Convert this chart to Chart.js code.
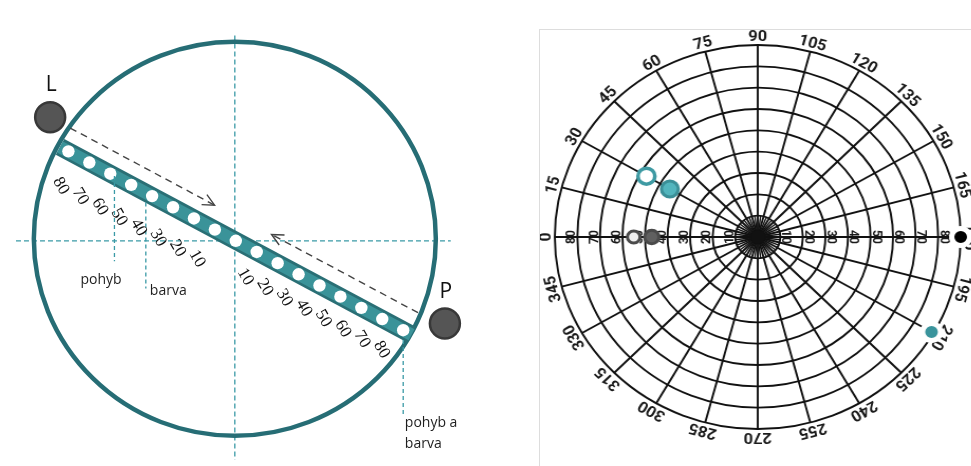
<!DOCTYPE html>
<html>
<head>
<meta charset="utf-8">
<script src="https://cdn.jsdelivr.net/npm/chart.js@4.4.1/dist/chart.umd.min.js"></script>
<style>
  html, body { margin: 0; padding: 0; background: #fff; }
  body { width: 971px; height: 466px; position: relative; overflow: hidden; }
  #left { position: absolute; left: 0; top: 0; width: 540px; height: 466px; }
  #panel { position: absolute; left: 539px; top: 29px; width: 432px; height: 437px;
           border-left: 1px solid #ddd; border-top: 1px solid #ddd; box-sizing: border-box; }
  #polarWrap { position: absolute; left: 0; top: 0; width: 408px; height: 436px;
               transform-origin: 0 0; transform: scaleX(1.057); }
</style>
</head>
<body>
<div id="left"><canvas id="leftCanvas"></canvas></div>
<div id="panel"><div id="polarWrap"><canvas id="polarCanvas"></canvas></div></div>
<script>
// ---- data ----
// scale printed along the bar (same on both halves)
const barTicks = [10, 20, 30, 40, 50, 60, 70, 80];
// readings marked under the bar
const markL = [58, 43];   // pohyb, barva (L half)
const markP = [80];       // pohyb a barva (P half)

// polar chart
const angles = [0, 15, 30, 45, 60, 75, 90, 105, 120, 135, 150, 165,
                180, 195, 210, 225, 240, 255, 270, 285, 300, 315, 330, 345];
const radialTicks = [10, 20, 30, 40, 50, 60, 70, 80];
// [angle, value]
const grayOpen = [[0, 55]];
const grayFull = [[0, 47]];
const tealOpen = [[30, 57]];
const tealFull = [[30, 45]];
const blackDot = [[180, 90]];
const tealDot = [[210, 89]];

// ---- left diagram ----
// bar layout on the page
const BAR = { cx: 235, cy: 241, angle: 28.2, unit: 2.43, half: 84 };
const rad = BAR.angle * Math.PI / 180;

function barXY(u, perp) {
  perp = perp || 0;
  return {
    x: BAR.cx + u * BAR.unit * Math.cos(rad) + perp * Math.sin(rad),
    y: BAR.cy + u * BAR.unit * Math.sin(rad) - perp * Math.cos(rad)
  };
}

const dotPoints = [...barTicks.slice().reverse().map(v => -v), 0, ...barTicks].map(u => barXY(u));

const markerText = [
  { start: 0, end: 262, lines: ['pohyb'], x: 76, y: 281 },
  { start: 10, end: 290, lines: ['barva'], x: 147, y: 293 },
  { start: 10, end: 420, lines: ['pohyb a', 'barva'], x: 408, y: 428 }
];

function arrow(ctx, a, b) {
  ctx.setLineDash([7, 5]);
  ctx.beginPath(); ctx.moveTo(a.x, a.y); ctx.lineTo(b.x, b.y); ctx.stroke();
  ctx.setLineDash([]);
  const ang = Math.atan2(b.y - a.y, b.x - a.x);
  ctx.beginPath();
  ctx.moveTo(b.x - 13 * Math.cos(ang - 0.45), b.y - 13 * Math.sin(ang - 0.45));
  ctx.lineTo(b.x, b.y);
  ctx.lineTo(b.x - 13 * Math.cos(ang + 0.45), b.y - 13 * Math.sin(ang + 0.45));
  ctx.stroke();
}

const leftDecor = {
  id: 'leftDecor',
  beforeDatasetsDraw(chart) {
    const ctx = chart.ctx, xs = chart.scales.x, ys = chart.scales.y;
    const X = v => xs.getPixelForValue(v), Y = v => ys.getPixelForValue(v);
    ctx.save();
    // dashed cross
    ctx.strokeStyle = '#3a9aa6'; ctx.lineWidth = 1.3; ctx.setLineDash([5, 3]);
    ctx.beginPath(); ctx.moveTo(X(234), Y(30)); ctx.lineTo(X(234), Y(466)); ctx.stroke();
    ctx.beginPath(); ctx.moveTo(X(10), Y(241)); ctx.lineTo(X(455), Y(241)); ctx.stroke();
    ctx.setLineDash([]);
    // ring
    ctx.strokeStyle = '#266d75'; ctx.lineWidth = 4.5;
    ctx.beginPath(); ctx.ellipse(X(234), Y(239), 201, 197, 0, 0, Math.PI * 2); ctx.stroke();
    // bar
    const p0 = barXY(-BAR.half), p1 = barXY(BAR.half);
    ctx.lineCap = 'butt';
    ctx.strokeStyle = '#2a6f75'; ctx.lineWidth = 18;
    ctx.beginPath(); ctx.moveTo(X(p0.x), Y(p0.y)); ctx.lineTo(X(p1.x), Y(p1.y)); ctx.stroke();
    ctx.strokeStyle = '#3a9399'; ctx.lineWidth = 12.5;
    ctx.beginPath(); ctx.moveTo(X(p0.x), Y(p0.y)); ctx.lineTo(X(p1.x), Y(p1.y)); ctx.stroke();
    ctx.restore();
  },
  afterDatasetsDraw(chart) {
    const ctx = chart.ctx, xs = chart.scales.x, ys = chart.scales.y;
    const X = v => xs.getPixelForValue(v), Y = v => ys.getPixelForValue(v);
    ctx.save();
    // marker lines and captions
    const marks = [...markL.map(v => -v), ...markP];
    ctx.strokeStyle = '#3a9aa6'; ctx.lineWidth = 1.3;
    ctx.font = '14px "Open Sans", "Noto Sans", sans-serif';
    ctx.fillStyle = '#1e1e1e'; ctx.textAlign = 'left'; ctx.textBaseline = 'middle';
    marks.forEach((u, i) => {
      const p = barXY(u), m = markerText[i];
      ctx.setLineDash([4, 3]);
      ctx.beginPath(); ctx.moveTo(X(p.x), Y(p.y + m.start)); ctx.lineTo(X(p.x), Y(m.end)); ctx.stroke();
      ctx.setLineDash([]);
      m.lines.forEach((t, k) => ctx.fillText(t, X(m.x), Y(m.y + k * 22)));
    });
    // scale numbers under the bar
    ctx.font = '17px "Liberation Serif", "Times New Roman", serif';
    ctx.fillStyle = '#111'; ctx.textAlign = 'center';
    barTicks.forEach(v => {
      [[-1, -35], [1, -28]].forEach(([s, off]) => {
        const p = barXY(s * (0.93 * v + 1.5), off);
        ctx.save(); ctx.translate(X(p.x), Y(p.y)); ctx.rotate(60 * Math.PI / 180);
        ctx.fillText(String(v), 0, 0); ctx.restore();
      });
    });
    // direction arrows
    ctx.strokeStyle = '#444'; ctx.lineWidth = 1.4;
    let a = barXY(-84, 22), b = barXY(-15, 22);
    arrow(ctx, { x: X(a.x), y: Y(a.y) }, { x: X(b.x), y: Y(b.y) });
    a = barXY(82, 23); b = barXY(12, 23);
    arrow(ctx, { x: X(a.x), y: Y(a.y) }, { x: X(b.x), y: Y(b.y) });
    // L and P
    [[45, 114, 'L', 81], [449, 326, 'P', 294]].forEach(([x, y, t, ty]) => {
      ctx.fillStyle = '#555'; ctx.strokeStyle = '#383838'; ctx.lineWidth = 2.5;
      ctx.beginPath(); ctx.arc(X(x), Y(y), 15, 0, Math.PI * 2); ctx.fill(); ctx.stroke();
      ctx.fillStyle = '#111'; ctx.font = '21px "Open Sans", "Noto Sans", sans-serif';
      ctx.textAlign = 'center';
      ctx.fillText(t, X(x + 1), Y(ty));
    });
    ctx.restore();
  }
};

new Chart(document.getElementById('leftCanvas'), {
  type: 'scatter',
  data: {
    datasets: [{
      data: dotPoints,
      pointRadius: 6.2,
      pointBackgroundColor: '#fff',
      pointBorderWidth: 0,
      clip: false
    }]
  },
  options: {
    responsive: true,
    maintainAspectRatio: false,
    animation: false,
    events: [],
    layout: { padding: 0 },
    plugins: { legend: { display: false }, tooltip: { enabled: false } },
    scales: {
      x: { type: 'linear', min: 0, max: 540, display: false },
      y: { type: 'linear', min: 0, max: 466, reverse: true, display: false }
    }
  },
  plugins: [leftDecor]
});

// ---- polar chart ----
function toRadar(pairs) {
  const arr = angles.map(() => null);
  pairs.forEach(([a, v]) => { arr[angles.indexOf(a)] = v; });
  return arr;
}

function pts(pairs, fill, border, r, bw) {
  return {
    data: toRadar(pairs),
    showLine: false,
    pointRadius: r,
    pointBackgroundColor: fill,
    pointBorderColor: border,
    pointBorderWidth: bw,
    clip: false
  };
}

const polarDecor = {
  id: 'polarDecor',
  beforeDatasetsDraw(chart) {
    const s = chart.scales.r, ctx = chart.ctx;
    const cx = s.xCenter, cy = s.yCenter;
    ctx.save();
    // denser spokes near the pole
    const step = Math.PI * 2 / angles.length;
    const inner = s.getDistanceFromCenterForValue(10);
    ctx.strokeStyle = '#111'; ctx.lineWidth = 1.4;
    angles.forEach((a, i) => {
      const t = s.getIndexAngle(i) - Math.PI / 2 + step / 2;
      ctx.beginPath(); ctx.moveTo(cx, cy);
      ctx.lineTo(cx + inner * Math.cos(t), cy + inner * Math.sin(t)); ctx.stroke();
    });
    ctx.fillStyle = '#111';
    ctx.beginPath(); ctx.arc(cx, cy, 7, 0, Math.PI * 2); ctx.fill();
    // angle labels, rotated along the rim
    ctx.font = 'bold 15.5px Roboto, "Liberation Sans", sans-serif';
    ctx.fillStyle = '#1a1a1a'; ctx.textAlign = 'center'; ctx.textBaseline = 'middle';
    angles.forEach((a, i) => {
      const p = s.getPointPosition(i, s.drawingArea + 8);
      ctx.save(); ctx.translate(p.x, p.y); ctx.rotate(s.getIndexAngle(i));
      ctx.fillText(String(a), 0, 0); ctx.restore();
    });
    // radial values along the 0-180 axis
    ctx.font = 'bold 12px Roboto, "Liberation Sans", sans-serif';
    radialTicks.forEach(v => {
      const d = s.getDistanceFromCenterForValue(v) + 5;
      ctx.save(); ctx.translate(cx - d, cy); ctx.rotate(-Math.PI / 2);
      ctx.fillText(String(v), 0, 0); ctx.restore();
      ctx.save(); ctx.translate(cx + d, cy); ctx.rotate(Math.PI / 2);
      ctx.fillText(String(v), 0, 0); ctx.restore();
    });
    ctx.restore();
  }
};

new Chart(document.getElementById('polarCanvas'), {
  type: 'radar',
  data: {
    labels: angles.map(String),
    datasets: [
      pts(grayOpen, '#f0f0f0', '#4a4a4a', 6, 3),
      pts(grayFull, '#606060', '#4a4a4a', 6.8, 3),
      pts(tealOpen, '#ffffff', '#3e9aa3', 8, 3.5),
      pts(tealFull, '#52b5bd', '#3b8f97', 8, 3),
      pts(blackDot, '#000000', '#ffffff', 8.5, 5),
      pts(tealDot, '#3a949c', '#ffffff', 8.5, 5)
    ]
  },
  options: {
    responsive: true,
    maintainAspectRatio: false,
    animation: false,
    events: [],
    layout: { padding: { left: 14, right: 10, top: 15, bottom: 37 } },
    plugins: { legend: { display: false }, tooltip: { enabled: false } },
    scales: {
      r: {
        min: 0,
        max: 90,
        startAngle: 270,
        ticks: { display: false, stepSize: 10 },
        grid: { circular: true, color: '#111', lineWidth: 1.9 },
        angleLines: { color: '#111', lineWidth: 1.9 },
        pointLabels: { display: false }
      }
    }
  },
  plugins: [polarDecor]
});
</script>
</body>
</html>
